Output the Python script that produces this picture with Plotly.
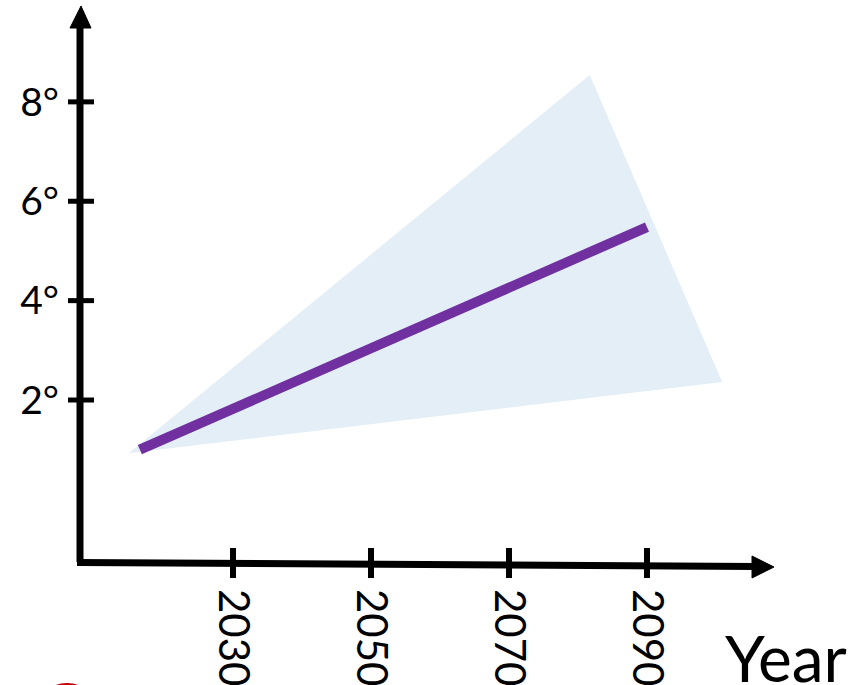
import plotly.graph_objects as go

# Projected warming: central estimate and uncertainty wedge
line_years = [2016.5, 2090]
line_temps = [1.0, 5.48]

band_years = [2014.9, 2081.7, 2100.9]
band_temps = [0.93, 8.54, 2.36]

x_ticks = [2030, 2050, 2070, 2090]
x_labels = ["2030", "2050", "2070", "2090"]
y_ticks = [2, 4, 6, 8]
y_labels = ["2°", "4°", "6°", "8°"]

W, H = 856, 685
L, B = 80, 123          # plot-area margins in px
PW, PH = W - L, H - B   # plot-area size

X_RANGE = [2007.83, 2120.29]
Y_RANGE = [-1.26, 10.05]

FONT = "Lato, 'Open Sans', sans-serif"
INK = "black"


def px(xp):
    return (xp - L) / PW


def py(yp):
    return (PH - yp) / PH


fig = go.Figure()

fig.add_trace(go.Scatter(
    x=band_years + [band_years[0]],
    y=band_temps + [band_temps[0]],
    fill="toself",
    fillcolor="#E4EEF7",
    mode="lines",
    line=dict(width=0, color="rgba(0,0,0,0)"),
    hoverinfo="skip",
    showlegend=False,
))

fig.add_trace(go.Scatter(
    x=line_years,
    y=line_temps,
    mode="lines",
    line=dict(color="#7030A0", width=10),
    showlegend=False,
))

shapes = []
# vertical axis with arrow head
shapes.append(dict(type="line", xref="paper", yref="paper",
                   x0=px(80), y0=py(562), x1=px(80), y1=py(24),
                   line=dict(color=INK, width=7)))
shapes.append(dict(type="path", xref="paper", yref="paper",
                   path=f"M {px(70)} {py(28)} L {px(81)} {py(6)} L {px(91)} {py(28)} Z",
                   fillcolor=INK, line=dict(color=INK, width=1)))
# horizontal axis, drawn with a slight hand-drawn tilt
shapes.append(dict(type="line", xref="paper", yref="paper",
                   x0=px(77), y0=py(562.5), x1=px(755), y1=py(566.5),
                   line=dict(color=INK, width=7)))
shapes.append(dict(type="path", xref="paper", yref="paper",
                   path=f"M {px(752)} {py(556)} L {px(774)} {py(567)} L {px(752)} {py(578)} Z",
                   fillcolor=INK, line=dict(color=INK, width=1)))
# tick marks crossing the axes
for v in y_ticks:
    shapes.append(dict(type="line", xref="paper", yref="y",
                       x0=px(68), x1=px(94), y0=v, y1=v,
                       line=dict(color=INK, width=5)))
for v in x_ticks:
    shapes.append(dict(type="line", xref="x", yref="paper",
                       x0=v, x1=v, y0=py(548), y1=py(578),
                       line=dict(color=INK, width=6)))
# red mark peeking in at the lower edge
shapes.append(dict(type="circle", xref="paper", yref="paper",
                   x0=px(38), x1=px(96), y0=py(684.5), y1=py(740),
                   line=dict(color="#C00000", width=3)))

fig.update_layout(
    width=W, height=H,
    margin=dict(l=L, r=0, t=0, b=B, pad=0),
    paper_bgcolor="white",
    plot_bgcolor="white",
    shapes=shapes,
    xaxis=dict(
        range=X_RANGE, tickvals=x_ticks, ticktext=x_labels,
        tickangle=90, ticks="", showgrid=False, zeroline=False,
        showline=False, ticklabelstandoff=26,
        tickfont=dict(family=FONT, size=42, color=INK),
    ),
    yaxis=dict(
        range=Y_RANGE, tickvals=y_ticks, ticktext=y_labels,
        ticks="", showgrid=False, zeroline=False, showline=False,
        ticklabelstandoff=20,
        tickfont=dict(family=FONT, size=39, color=INK),
    ),
    annotations=[dict(
        text="Year", xref="paper", yref="paper",
        x=px(786), y=py(657), xanchor="center", yanchor="middle",
        showarrow=False, font=dict(family=FONT, size=64, color=INK),
    )],
)

fig.write_html("out.html")
